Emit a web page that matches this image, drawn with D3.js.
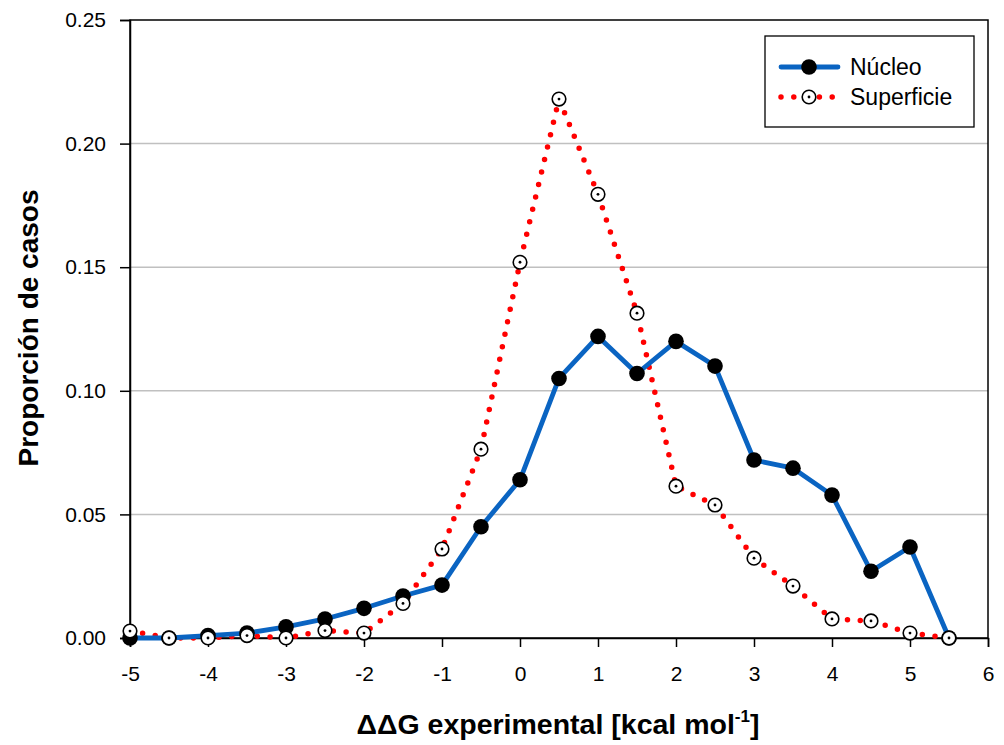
<!DOCTYPE html>
<html><head><meta charset="utf-8">
<script src="https://cdn.jsdelivr.net/npm/d3@7"></script>
<style>body{margin:0;background:#fff}svg{display:block;font-family:"Liberation Sans",Arial,sans-serif}</style>
</head><body><svg id="c" width="1004" height="745"></svg>
<script>
const xValues = [-5,-4.5,-4,-3.5,-3,-2.5,-2,-1.5,-1,-0.5,0,0.5,1,1.5,2,2.5,3,3.5,4,4.5,5,5.5];
const nucleo = [0.000,0.000,0.001,0.002,0.0045,0.0077,0.012,0.017,0.0214,0.045,0.064,0.105,0.122,0.107,0.120,0.110,0.072,0.0687,0.0578,0.027,0.0368,0.000];
const superficie = [0.0028,0.000,0.000,0.001,0.000,0.003,0.002,0.014,0.036,0.0764,0.152,0.218,0.1795,0.1314,0.0614,0.0538,0.0323,0.021,0.0077,0.0069,0.002,0.000];
const xTicks = [-5,-4,-3,-2,-1,0,1,2,3,4,5,6];
const yTicks = [0,0.05,0.10,0.15,0.20,0.25];
const seriesNames = ["Núcleo","Superficie"];

const svg = d3.select("#c");
const L=130,R=988,T=20,B=638;
const x = d3.scaleLinear().domain([-5,6]).range([L,R]);
const y = d3.scaleLinear().domain([0,0.25]).range([B,T]);

// gridlines
svg.append("g").selectAll("line").data(yTicks.filter(d=>d>0&&d<0.25)).join("line")
  .attr("x1",L).attr("x2",R).attr("y1",d=>y(d)).attr("y2",d=>y(d))
  .attr("stroke","#c0c0c0").attr("stroke-width",1.5);

// frame
svg.append("rect").attr("x",L).attr("y",T).attr("width",R-L).attr("height",B-T)
  .attr("fill","none").attr("stroke","#000").attr("stroke-width",1.5);

// axes
const xAxis = svg.append("g").attr("transform",`translate(0,${B})`)
  .call(d3.axisBottom(x).tickValues(xTicks).tickFormat(d=>String(d)).tickSizeOuter(0).tickSize(9).tickPadding(19));
const yAxis = svg.append("g").attr("transform",`translate(${L},0)`)
  .call(d3.axisLeft(y).tickValues(yTicks).tickFormat(d3.format(".2f")).tickSizeOuter(0).tickSize(10).tickPadding(14));
[xAxis,yAxis].forEach(g=>{
  g.select(".domain").attr("stroke","#000").attr("stroke-width",1.5);
  g.selectAll(".tick line").attr("stroke","#000").attr("stroke-width",1.5);
  g.selectAll(".tick text").attr("font-size",21).attr("fill","#000").attr("font-family","Liberation Sans, Arial, sans-serif");
});

const line = d3.line().x((d,i)=>x(xValues[i])).y(d=>y(d));

// Superficie line (red dotted)
svg.append("path").datum(superficie).attr("d",line).attr("fill","none")
  .attr("stroke","#ff0000").attr("stroke-width",5.5).attr("stroke-linecap","round")
  .attr("stroke-dasharray","0 12.8");
// Núcleo line
svg.append("path").datum(nucleo).attr("d",line).attr("fill","none")
  .attr("stroke","#0a64c2").attr("stroke-width",4.8).attr("stroke-linejoin","round");

// Núcleo markers
svg.append("g").selectAll("circle").data(nucleo).join("circle")
  .attr("cx",(d,i)=>x(xValues[i])).attr("cy",d=>y(d)).attr("r",7.8).attr("fill","#000");
// Superficie markers
const sm = svg.append("g").selectAll("g").data(superficie).join("g")
  .attr("transform",(d,i)=>`translate(${x(xValues[i])},${y(d)})`);
sm.append("circle").attr("r",6.8).attr("fill","#fff").attr("stroke","#000").attr("stroke-width",1.6);
sm.append("circle").attr("r",1.4).attr("fill","#000");

// legend
const lg = svg.append("g");
lg.append("rect").attr("x",765).attr("y",36).attr("width",209).attr("height",91)
  .attr("fill","#fff").attr("stroke","#000").attr("stroke-width",1.3);
lg.append("line").attr("x1",781).attr("x2",838).attr("y1",67).attr("y2",67)
  .attr("stroke","#0a64c2").attr("stroke-width",4.8).attr("stroke-linecap","round");
lg.append("circle").attr("cx",809).attr("cy",67).attr("r",7.8).attr("fill","#000");
lg.append("line").attr("x1",781).attr("x2",838).attr("y1",97).attr("y2",97)
  .attr("stroke","#ff0000").attr("stroke-width",5.5).attr("stroke-linecap","round").attr("stroke-dasharray","0 12.8");
lg.append("circle").attr("cx",809).attr("cy",97).attr("r",6.8).attr("fill","#fff").attr("stroke","#000").attr("stroke-width",1.6);
lg.append("circle").attr("cx",809).attr("cy",97).attr("r",1.4).attr("fill","#000");
lg.selectAll("text").data(seriesNames).join("text")
  .attr("x",850).attr("y",(d,i)=>75+i*30)
  .attr("font-size",23).attr("fill","#000").text(d=>d);

// axis titles
const xt = svg.append("text").attr("x",558).attr("y",734).attr("text-anchor","middle")
  .attr("font-size",28.5).attr("font-weight","bold").attr("fill","#000");
xt.append("tspan").text("ΔΔG experimental [kcal mol");
xt.append("tspan").attr("font-size",17).attr("dy",-12).text("-1");
xt.append("tspan").attr("dy",12).text("]");

svg.append("text").attr("transform","translate(38,328) rotate(-90)").attr("text-anchor","middle")
  .attr("font-size",28).attr("font-weight","bold").attr("fill","#000").text("Proporción de casos");
</script></body></html>
